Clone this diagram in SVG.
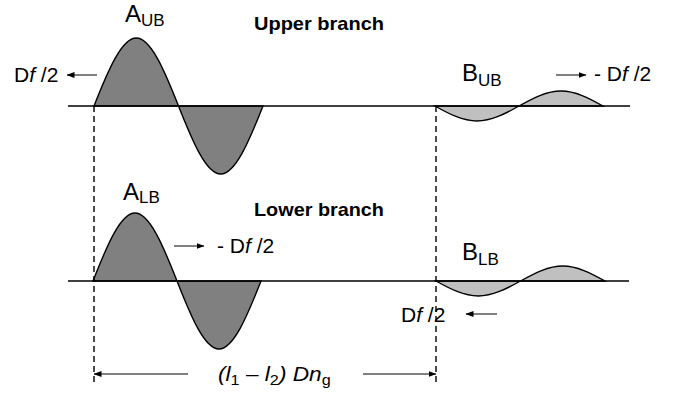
<svg xmlns="http://www.w3.org/2000/svg" width="673" height="396" viewBox="0 0 673 396">
<style>
  text { font-family: "Liberation Sans", Arial, sans-serif; fill: #000; }
  .lbl { font-size: 24px; }
  .sub { font-size: 17px; }
  .df { font-size: 21px; }
  .title { font-size: 18.5px; font-weight: bold; }
  .axis { stroke: #000; stroke-width: 1.4; fill: none; }
  .dash { stroke: #000; stroke-width: 1.4; stroke-dasharray: 6 4; fill: none; }
  .arr { stroke: #000; stroke-width: 1; fill: none; marker-end: url(#ah); }
  .big { fill: #808080; stroke: #000; stroke-width: 1.4; }
  .small { fill: #c0c0c0; stroke: #000; stroke-width: 1.4; }
</style>
<defs>
  <marker id="ah" viewBox="0 0 8 6" refX="7.5" refY="3" markerWidth="8" markerHeight="6" markerUnits="userSpaceOnUse" orient="auto">
    <path d="M0,0 L8,3 L0,6 Z" fill="#000"/>
  </marker>
</defs>

<g id="waves">
  <path id="wave-a-ub" class="big" d="M94,106 C108.12,70.3 121.72,38 136.25,38 C150.78,38 164.38,70.3 178.5,106 C192.62,141.7 206.22,174 220.75,174 C235.28,174 248.88,141.7 263,106 Z"/>
  <path id="wave-b-ub" class="small" d="M435,106 C449.04,113.9 462.55,121 477,121 C491.45,121 504.96,113.9 519,106 C533.04,98.1 546.55,91 561,91 C575.45,91 588.96,98.1 603,106 Z"/>
  <path id="wave-a-lb" class="big" d="M93,281 C107.04,245.3 120.55,213 135,213 C149.45,213 162.96,245.3 177,281 C191.04,316.7 204.55,349 219,349 C233.45,349 246.96,316.7 261,281 Z"/>
  <path id="wave-b-lb" class="small" d="M436,281 C450.12,288.9 464.03,296 478.25,296 C492.47,296 506.38,288.9 520.5,281 C534.62,273.1 548.53,266 562.75,266 C576.97,266 590.88,273.1 605,281 Z"/>
</g>

<g id="connectors">
  <line class="axis" x1="68" y1="106" x2="630" y2="106"/>
  <line class="axis" x1="68" y1="281" x2="629" y2="281"/>
  <line class="dash" x1="94" y1="106" x2="94" y2="382"/>
  <line class="dash" x1="436" y1="106" x2="436" y2="382"/>
  <line class="arr" x1="97" y1="75" x2="67" y2="75"/>
  <line class="arr" x1="556" y1="75" x2="586" y2="75"/>
  <line class="arr" x1="174" y1="246" x2="204" y2="246"/>
  <line class="arr" x1="497" y1="314" x2="466" y2="314"/>
  <line class="arr" x1="188" y1="374" x2="94" y2="374"/>
  <line class="arr" x1="363" y1="374" x2="436" y2="374"/>
</g>

<g id="upper-branch">
  <text class="title" x="254" y="30" textLength="130" lengthAdjust="spacingAndGlyphs">Upper branch</text>
  <text id="a-ub" class="lbl" x="125" y="22">A<tspan class="sub" dy="4">UB</tspan></text>
  <text id="b-ub" class="lbl" x="462" y="81">B<tspan class="sub" dy="5">UB</tspan></text>
  <text class="df" x="14" y="82">D<tspan font-style="italic">f</tspan> /2</text>
  <text class="df" x="594" y="81">- D<tspan font-style="italic">f</tspan> /2</text>
</g>

<g id="lower-branch">
  <text class="title" x="254" y="215.5" textLength="130" lengthAdjust="spacingAndGlyphs">Lower branch</text>
  <text id="a-lb" class="lbl" x="123" y="200">A<tspan class="sub" dy="3">LB</tspan></text>
  <text id="b-lb" class="lbl" x="462" y="260">B<tspan class="sub" dy="5">LB</tspan></text>
  <text class="df" x="217" y="253">- D<tspan font-style="italic">f</tspan> /2</text>
  <text class="df" x="401" y="322">D<tspan font-style="italic">f</tspan> /2</text>
</g>

<g id="dimension">
  <text font-size="21" transform="translate(218,381) scale(1.08,1)" x="0" y="0"><tspan font-style="italic">(l</tspan><tspan font-size="15" dy="4">1</tspan><tspan dy="-4"> – </tspan><tspan font-style="italic">l</tspan><tspan font-size="15" dy="4">2</tspan><tspan font-style="italic" dy="-4">) Dn</tspan><tspan font-size="15" dy="4">g</tspan></text>
</g>
</svg>
